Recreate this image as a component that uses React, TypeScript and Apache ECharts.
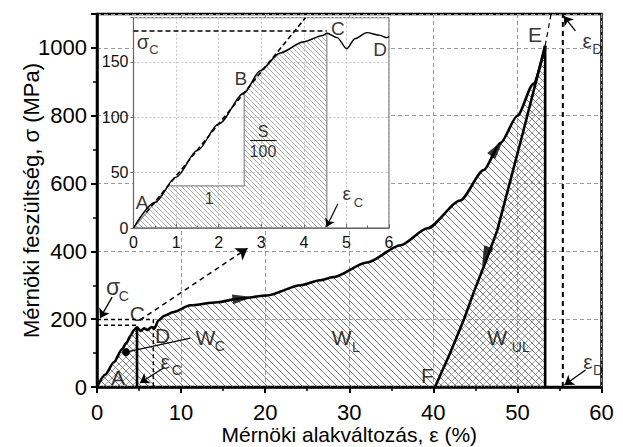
import React, { useEffect, useRef } from 'react';
import * as echarts from 'echarts';

const FONT = '"Liberation Sans", Arial, Helvetica, sans-serif';

// ---------- Main chart data (engineering strain %, engineering stress MPa) ----------
const loadStrain = [0, 1, 2, 3, 3.5, 4, 4.4, 4.76, 5.2, 5.6, 6.0, 6.5, 6.8, 7.3, 8, 9.1, 11.1, 14.3, 17, 20.2, 24.2, 26.5, 28.1, 32.1, 36.1, 39.3, 43.2, 46, 48, 50, 51.9, 53.3];
const loadStress = [0, 37, 73, 112, 130, 152, 168, 176, 165, 173, 168, 177, 172, 196, 210, 221, 241, 250, 261, 270, 300, 315, 324, 367, 418, 468, 550, 640, 720, 800, 894, 1006];
const unloadStrain = [53.3, 50.5, 47.6, 46.2, 44.8, 43.6, 42, 40.2];
const unloadStress = [1006, 735, 462, 368, 279, 197, 100, 0];
const epsC = 4.76;          // strain at C
const sigmaCUpper = 199;    // upper sigma_C dashed level
const sigmaCLower = 182;    // lower sigma_C dashed level
const dashStrain = 6.7;     // dashed vertical near D
const epsE = 53.3;          // strain at E
const epsD = 55.4;          // strain eps_D
const yMaxMain = 1100;

// ---------- Inset data (strain %, stress MPa) ----------
const insetStrain = [0, 0.5, 1, 1.5, 2, 2.6, 2.97, 3.44, 3.98, 4.45, 4.54, 4.78, 5.01, 5.2, 5.48, 5.79, 5.95, 6.0];
const insetStress = [0, 23, 46, 70, 94, 122, 142, 158, 168, 174, 176, 172, 162, 171, 176.5, 174, 172, 173];
const insetEpsC = 4.54;
const insetSigmaC = 178;
const slopeTriangle = [[0.82, 38], [2.6, 38], [2.6, 122]];
const tangentLine = [[0.3, 14], [4.04, 190]];
const yMaxInset = 190;

// tick labels
const mainXTicks = [0, 10, 20, 30, 40, 50, 60];
const mainYTicks = [0, 200, 400, 600, 800, 1000];
const insetXTicks = [0, 1, 2, 3, 4, 5, 6];
const insetYTicks = [0, 50, 100, 150];

export default function App() {
  const ref = useRef<HTMLDivElement>(null);

  useEffect(() => {
    const el = ref.current as HTMLDivElement;
    const chart = echarts.init(el, undefined, { renderer: 'svg' });

    const makeHatch = (size: number, color: string, width: number, dir: 'back' | 'fwd') => {
      const c = document.createElement('canvas');
      c.width = size;
      c.height = size;
      const ctx = c.getContext('2d') as CanvasRenderingContext2D;
      ctx.strokeStyle = color;
      ctx.lineWidth = width;
      ctx.beginPath();
      for (const o of [-size, 0, size]) {
        if (dir === 'back') {
          ctx.moveTo(o, 0);
          ctx.lineTo(o + size, size);
        } else {
          ctx.moveTo(o, size);
          ctx.lineTo(o + size, 0);
        }
      }
      ctx.stroke();
      return { image: c.toDataURL(), repeat: 'repeat', imageWidth: size, imageHeight: size } as any;
    };

    const hatchBack = makeHatch(7, '#555', 0.8, 'back');
    const hatchFwd = makeHatch(7, '#777', 0.7, 'fwd');
    const hatchInset = makeHatch(5, '#999', 0.8, 'back');

    const loadPts = loadStrain.map((x, i) => [x, loadStress[i]]);
    const unloadPts = unloadStrain.map((x, i) => [x, unloadStress[i]]);
    const wcPts = loadPts.filter((p) => p[0] <= epsC);
    const wulPoly = unloadPts.concat([[epsE, 0]]);
    const insetPts = insetStrain.map((x, i) => [x, insetStress[i]]);
    const insetHatchPoly = [
      ...insetPts.filter((p) => p[0] < slopeTriangle[0][0]),
      ...slopeTriangle,
      ...insetPts.filter((p) => p[0] > slopeTriangle[2][0] && p[0] <= insetEpsC),
      [insetEpsC, 0],
    ];

    const M = { xAxisIndex: 0, yAxisIndex: 0 };
    const I = { xAxisIndex: 1, yAxisIndex: 2 };

    const plainLine = (data: number[][], width: number, type: any, axes: any, z: number, color = '#000') => ({
      type: 'line',
      ...axes,
      data,
      symbol: 'none',
      silent: true,
      z,
      lineStyle: { color, width, type },
    });

    const arrows = (coords: number[][][], axes: any, z: number, dashed = false, width = 1.2, size = 9) => ({
      type: 'lines',
      coordinateSystem: 'cartesian2d',
      ...axes,
      z,
      silent: true,
      symbol: ['none', 'arrow'],
      symbolSize: size,
      lineStyle: { color: '#000', width, type: dashed ? [5, 4] : 'solid', opacity: 1, curveness: 0 },
      data: coords.map((c) => ({ coords: c })),
    });

    const label = (text: string, x: number, y: number, size: number) => ({
      value: [x, y],
      label: { formatter: text, fontSize: size },
    });

    const mainLabels = [
      label('A', 2.5, 29, 21),
      label('C', 4.8, 216, 21),
      label('D', 7.8, 153, 21),
      label('σ', 1.9, 294, 23),
      label('C', 3.2, 268, 14),
      label('W', 12.9, 147, 21),
      label('C', 14.6, 120, 14),
      label('ε', 8.1, 74, 21),
      label('C', 9.5, 50, 14),
      label('W', 29.1, 147, 21),
      label('L', 30.8, 118, 14),
      label('W', 47.6, 147, 21),
      label('UL', 50.4, 118, 14),
      label('F', 39.3, 35, 21),
      label('E', 52.1, 1041, 21),
      label('ε', 58.3, 1021, 21),
      label('D', 59.5, 996, 14),
      label('ε', 58.4, 74, 21),
      label('D', 59.6, 50, 14),
    ];

    const insetLabels = [
      label('σ', 0.22, 168, 20),
      label('C', 0.48, 161, 13),
      label('A', 0.2, 23, 19),
      label('B', 2.52, 135, 19),
      label('C', 4.8, 180, 19),
      label('D', 5.79, 161, 19),
      label('1', 1.78, 27, 16),
      label('S', 3.04, 87, 16),
      label('100', 3.04, 69, 16),
      label('ε', 5.01, 31, 19),
      label('C', 5.28, 23, 13),
    ];

    const option: any = {
      animation: false,
      textStyle: { fontFamily: FONT },
      grid: [
        {
          left: 97, right: 21.5, top: 14, bottom: 60, show: true, containLabel: false, outerBoundsMode: 'none',
          borderColor: '#000', borderWidth: 2.5, backgroundColor: 'transparent', z: 0,
        },
        {
          left: 133.5, top: 17.7, width: 255.5, height: 210.3, show: true, containLabel: false, outerBoundsMode: 'none',
          backgroundColor: '#fff', borderColor: '#555', borderWidth: 1, z: 10,
        },
      ],
      xAxis: [
        {
          type: 'value', gridIndex: 0, min: mainXTicks[0], max: mainXTicks[mainXTicks.length - 1], interval: 10,
          axisLine: { show: true, onZero: false, lineStyle: { color: '#000', width: 2.5 } },
          axisTick: { show: true, inside: false, length: 6, lineStyle: { color: '#000', width: 2 } },
          minorTick: { show: true, splitNumber: 2, length: 4, lineStyle: { color: '#000', width: 1.5 } },
          axisLabel: { fontSize: 22, color: '#000', margin: 14, fontFamily: FONT },
          splitLine: { show: true, lineStyle: { color: '#9a9a9a', type: [4, 3], width: 1 } },
          name: 'Mérnöki alakváltozás, ε (%)', nameLocation: 'middle', nameGap: 37, nameMoveOverlap: false,
          nameTextStyle: { fontSize: 21, color: '#000', fontFamily: FONT },
        },
        {
          type: 'value', gridIndex: 1, min: insetXTicks[0], max: insetXTicks[insetXTicks.length - 1], interval: 1, z: 11,
          axisLine: { show: true, onZero: false, lineStyle: { color: '#666', width: 1.2 } },
          axisTick: { show: true, inside: true, length: 4, lineStyle: { color: '#666', width: 1 } },
          minorTick: { show: true, splitNumber: 2, length: 2.5, lineStyle: { color: '#666', width: 1 } },
          axisLabel: { fontSize: 16, color: '#111', margin: 6, fontFamily: FONT },
          splitLine: { show: true, lineStyle: { color: '#c4c4c4', type: [2, 2], width: 1 } },
        },
      ],
      yAxis: [
        {
          type: 'value', gridIndex: 0, position: 'left', min: 0, max: yMaxMain, interval: 200,
          axisLine: { show: true, onZero: false, lineStyle: { color: '#000', width: 2.5 } },
          axisTick: { show: true, inside: false, length: 6, lineStyle: { color: '#000', width: 2 } },
          axisLabel: {
            fontSize: 22, color: '#000', margin: 10, fontFamily: FONT,
            formatter: (v: number) => (mainYTicks.includes(v) ? String(v) : ''),
          },
          splitLine: { show: true, lineStyle: { color: '#9a9a9a', type: [4, 3], width: 1 } },
          name: 'Mérnöki feszültség, σ (MPa)', nameLocation: 'middle', nameGap: 55, nameMoveOverlap: false,
          nameTextStyle: { fontSize: 22, color: '#000', fontFamily: FONT },
        },
        {
          type: 'value', gridIndex: 0, position: 'left', offset: 0, min: 0, max: yMaxMain, interval: 100,
          axisLine: { show: false },
          axisTick: { show: true, inside: false, length: 4, lineStyle: { color: '#000', width: 1.5 } },
          axisLabel: { show: false },
          splitLine: { show: false },
        },
        {
          type: 'value', gridIndex: 1, min: 0, max: yMaxInset, interval: 50, z: 11,
          axisLine: { show: true, onZero: false, lineStyle: { color: '#666', width: 1.2 } },
          axisTick: { show: true, inside: false, length: 3, lineStyle: { color: '#666', width: 1 } },
          axisLabel: {
            fontSize: 16, color: '#111', margin: 5, fontFamily: FONT,
            formatter: (v: number) => (insetYTicks.includes(v) ? String(v) : ''),
          },
          splitLine: { show: true, lineStyle: { color: '#c4c4c4', type: [2, 2], width: 1 } },
        },
      ],
      series: [
        // ----- main: hatched areas -----
        {
          type: 'line', ...M, data: loadPts, symbol: 'none', silent: true, z: 1,
          smooth: 0.25, smoothMonotone: 'x',
          lineStyle: { width: 0, opacity: 0 },
          areaStyle: { color: hatchBack, opacity: 1 },
        },
        {
          type: 'line', ...M, data: wcPts, symbol: 'none', silent: true, z: 1,
          smooth: 0.25, smoothMonotone: 'x',
          lineStyle: { width: 0, opacity: 0 },
          areaStyle: { color: hatchFwd, opacity: 1 },
        },
        {
          type: 'custom', ...M, silent: true, z: 1, data: [[0, 0]],
          renderItem: (_p: any, api: any) => ({
            type: 'polygon',
            shape: { points: wulPoly.map((p) => api.coord(p)) },
            style: { fill: hatchFwd, stroke: 'none' },
          }),
        },
        // ----- main: dashed guide lines -----
        plainLine([[0, sigmaCUpper], [dashStrain, sigmaCUpper], [dashStrain, 0]], 1.4, [4, 3], M, 3),
        plainLine([[0, sigmaCLower], [epsC, sigmaCLower]], 1.4, [4, 3], M, 3),
        plainLine([[epsD, 0], [epsD, yMaxMain]], 2, [5, 4], M, 3),
        plainLine([[epsE, loadStress[loadStress.length - 1]], [54.0, yMaxMain]], 1.2, [5, 4], M, 3),
        // ----- main: curves -----
        {
          type: 'line', ...M, data: loadPts, symbol: 'none', silent: true, z: 4,
          smooth: 0.25, smoothMonotone: 'x',
          lineStyle: { color: '#000', width: 2.6 },
        },
        plainLine(unloadPts, 2.6, 'solid', M, 4),
        plainLine([[epsE, 0], [epsE, loadStress[loadStress.length - 1]]], 2.6, 'solid', M, 4),
        plainLine([[epsC, 0], [epsC, loadStress[loadStrain.indexOf(epsC)]]], 2.6, 'solid', M, 4),
        // ----- main: arrows -----
        arrows([[[5.1, 197], [17.9, 409]]], M, 5, true, 1.5, 11),
        arrows([
          [[1.8, 265], [0.36, 203]],
          [[7.9, 56], [5.1, 12]],
          [[56.9, 1050], [55.5, 1094]],
          [[58.1, 50], [55.6, 6]],
        ], M, 5, false, 1.3, 9),
        {
          type: 'lines', coordinateSystem: 'cartesian2d', ...M, z: 5, silent: true,
          symbol: ['circle', 'none'], symbolSize: 8,
          lineStyle: { color: '#000', width: 1.3, opacity: 1 },
          data: [{ coords: [[3.45, 103], [11.1, 144]] }],
        },
        {
          type: 'scatter', ...M, z: 6, silent: true, symbol: 'triangle', symbolSize: [10, 20],
          itemStyle: { color: '#000' },
          data: [
            { value: [17.3, 262], symbolRotate: -83 },
            { value: [47.6, 705], symbolRotate: -37 },
            { value: [46.2, 385], symbolRotate: 160 },
          ],
        },
        {
          type: 'scatter', ...M, z: 7, silent: true, symbolSize: 1,
          itemStyle: { color: 'transparent' },
          label: { show: true, position: 'inside', color: '#000', fontFamily: FONT },
          data: mainLabels,
        },
        // ----- inset -----
        {
          type: 'custom', ...I, silent: true, z: 12, data: [[0, 0]],
          renderItem: (_p: any, api: any) => ({
            type: 'polygon',
            shape: { points: insetHatchPoly.map((p) => api.coord(p)) },
            style: { fill: hatchInset, stroke: '#888', lineWidth: 1.2 },
          }),
        },
        plainLine([[0, insetSigmaC], [insetEpsC, insetSigmaC]], 1.6, [5, 3], I, 13),
        plainLine(tangentLine, 1.6, [5, 3], I, 14),
        {
          type: 'line', ...I, data: insetPts, symbol: 'none', silent: true, z: 13,
          smooth: 0.3, smoothMonotone: 'x',
          lineStyle: { color: '#000', width: 1.4 },
        },
        plainLine([[2.74, 79], [3.36, 79]], 1, 'solid', I, 14),
        arrows([[[4.8, 22], [4.53, 1]]], I, 14, false, 1.2, 8),
        {
          type: 'scatter', ...I, z: 15, silent: true, symbolSize: 1,
          itemStyle: { color: 'transparent' },
          label: { show: true, position: 'inside', color: '#000', fontFamily: FONT },
          data: insetLabels,
        },
      ],
    };

    chart.setOption(option);
    return () => chart.dispose();
  }, []);

  return (
    <div
      ref={ref}
      style={{ position: 'fixed', left: 0, top: 0, width: 623, height: 447, background: '#fff' }}
    />
  );
}
